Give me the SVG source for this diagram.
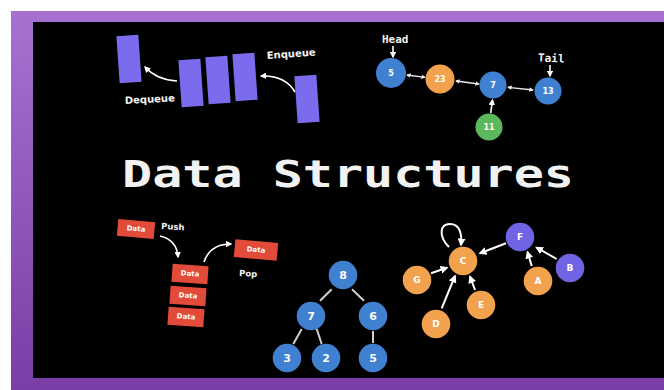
<svg xmlns="http://www.w3.org/2000/svg" width="664" height="390" viewBox="0 0 664 390">
<defs>
<linearGradient id="frame" x1="0" y1="0" x2="0" y2="1">
<stop offset="0" stop-color="#a771d1"/>
<stop offset="1" stop-color="#7b3da6"/>
</linearGradient>
<marker id="ah" viewBox="0 0 10 10" refX="8" refY="5" markerWidth="4" markerHeight="4" orient="auto-start-reverse">
<path d="M0,0 L10,5 L0,10 z" fill="#fff"/>
</marker>
<marker id="ahs" viewBox="0 0 10 10" refX="8" refY="5" markerWidth="3.5" markerHeight="3.5" orient="auto-start-reverse">
<path d="M0,0 L10,5 L0,10 z" fill="#eee"/>
</marker>
</defs>
<style>
.qbox{fill:#7a6cec}
.sbox{fill:#e24b39}
.blue{fill:#3f80d0}
.orange{fill:#f2a14c}
.green{fill:#5cb85c}
.purple{fill:#7164e4}
.lbl{font-family:"DejaVu Sans",sans-serif;font-weight:bold;fill:#f2f2f2}
.mono{font-family:"DejaVu Sans Mono","Liberation Mono",monospace;font-weight:bold;fill:#f2f2f2}
.num{font-family:"DejaVu Sans","Liberation Sans",sans-serif;font-weight:bold;fill:#fff;text-anchor:middle;dominant-baseline:central}
.arr{fill:none;stroke:#fff;stroke-width:1.6;marker-end:url(#ah)}
.dbl{fill:none;stroke:#e8e8e8;stroke-width:1.3;marker-start:url(#ahs);marker-end:url(#ahs)}
.edge{stroke:#d0d0d0;stroke-width:2}
.garr{fill:none;stroke:#fff;stroke-width:2;marker-end:url(#ah)}
</style>
<rect x="0" y="0" width="664" height="390" fill="#fff"/>
<rect x="11" y="11" width="653" height="379" fill="url(#frame)"/>
<rect x="33" y="22" width="631" height="356" fill="#000"/>

<text x="122" y="187" class="mono" font-size="37" textLength="452" lengthAdjust="spacingAndGlyphs">Data Structures</text>

<g id="queue">
<rect class="qbox" x="-11" y="-23.5" width="22" height="47" transform="translate(129 59) rotate(-4)"/>
<rect class="qbox" x="-11" y="-23.5" width="22" height="47" transform="translate(191 83) rotate(-4)"/>
<rect class="qbox" x="-11" y="-23.5" width="22" height="47" transform="translate(218 80) rotate(-4)"/>
<rect class="qbox" x="-11" y="-23.5" width="22" height="47" transform="translate(245 77) rotate(-4)"/>
<rect class="qbox" x="-11" y="-23.5" width="22" height="47" transform="translate(307 99) rotate(-4)"/>
<text class="lbl" font-size="10" transform="translate(125 104) rotate(-3)">Dequeue</text>
<text class="lbl" font-size="10" transform="translate(267 59) rotate(-4)">Enqueue</text>
</g>

<g id="linked-list">
<g id="ll-5"><circle class="blue" cx="391" cy="73" r="15"/><text class="num" x="391" y="73" font-size="8">5</text></g>
<g id="ll-23"><circle class="orange" cx="440" cy="79" r="14.5"/><text class="num" x="440" y="79" font-size="8">23</text></g>
<g id="ll-7"><circle class="blue" cx="493" cy="85" r="13.5"/><text class="num" x="493" y="85" font-size="8">7</text></g>
<g id="ll-13"><circle class="blue" cx="548" cy="91" r="13.5"/><text class="num" x="548" y="91" font-size="8">13</text></g>
<g id="ll-11"><circle class="green" cx="489" cy="127" r="13.5"/><text class="num" x="489" y="127" font-size="8">11</text></g>
<text class="mono" font-size="11" x="382" y="43">Head</text>
<text class="mono" font-size="11" x="538" y="62" transform="rotate(3 551 58)">Tail</text>
</g>

<g id="stack">
<g id="s-push"><rect class="sbox" x="-18.5" y="-8.5" width="37" height="17" transform="translate(136 229) rotate(5)"/><text class="num" font-size="7" transform="translate(136 229) rotate(5)">Data</text></g>
<g id="s-1"><rect class="sbox" x="-18" y="-9" width="36" height="18" transform="translate(190 274) rotate(4)"/><text class="num" font-size="7" transform="translate(190 274) rotate(4)">Data</text></g>
<g id="s-2"><rect class="sbox" x="-18" y="-9" width="36" height="18" transform="translate(188 296) rotate(4)"/><text class="num" font-size="7" transform="translate(188 296) rotate(4)">Data</text></g>
<g id="s-3"><rect class="sbox" x="-18" y="-9" width="36" height="18" transform="translate(186 317) rotate(4)"/><text class="num" font-size="7" transform="translate(186 317) rotate(4)">Data</text></g>
<g id="s-pop"><rect class="sbox" x="-21.5" y="-9" width="43" height="18" transform="translate(256 250) rotate(5)"/><text class="num" font-size="7" transform="translate(256 250) rotate(5)">Data</text></g>
<text class="lbl" font-size="8.5" transform="translate(161 229) rotate(3)">Push</text>
<text class="lbl" font-size="8.5" transform="translate(239 276) rotate(3)">Pop</text>
</g>

<g id="tree">
<g id="t-8"><circle class="blue" cx="343" cy="275" r="14.3"/><text class="num" x="343" y="275" font-size="11">8</text></g>
<g id="t-7"><circle class="blue" cx="311" cy="316" r="14.3"/><text class="num" x="311" y="316" font-size="11">7</text></g>
<g id="t-6"><circle class="blue" cx="373" cy="316" r="14.3"/><text class="num" x="373" y="316" font-size="11">6</text></g>
<g id="t-3"><circle class="blue" cx="287" cy="358" r="14.3"/><text class="num" x="287" y="358" font-size="11">3</text></g>
<g id="t-2"><circle class="blue" cx="326" cy="358" r="14.3"/><text class="num" x="326" y="358" font-size="11">2</text></g>
<g id="t-5"><circle class="blue" cx="373" cy="358" r="14.3"/><text class="num" x="373" y="358" font-size="11">5</text></g>
</g>

<g id="graph">
<g id="g-C"><circle class="orange" cx="463" cy="261" r="14.3"/><text class="num" x="463" y="261" font-size="9">C</text></g>
<g id="g-F"><circle class="purple" cx="520" cy="237" r="14.3"/><text class="num" x="520" y="237" font-size="9">F</text></g>
<g id="g-B"><circle class="purple" cx="570" cy="268" r="14.3"/><text class="num" x="570" y="268" font-size="9">B</text></g>
<g id="g-A"><circle class="orange" cx="538" cy="281" r="14.3"/><text class="num" x="538" y="281" font-size="9">A</text></g>
<g id="g-G"><circle class="orange" cx="417" cy="280" r="14.3"/><text class="num" x="417" y="280" font-size="9">G</text></g>
<g id="g-E"><circle class="orange" cx="481" cy="305" r="14.3"/><text class="num" x="481" y="305" font-size="9">E</text></g>
<g id="g-D"><circle class="orange" cx="436" cy="324" r="14.3"/><text class="num" x="436" y="324" font-size="9">D</text></g>
</g>

<g id="connectors">
<path class="arr" d="M177,81 Q157,80 145,67"/>
<path class="arr" d="M295,92 Q285,75 261,76"/>
<line class="arr" x1="393" y1="46" x2="393" y2="57"/>
<line class="arr" x1="550" y1="65" x2="550" y2="76"/>
<line class="dbl" x1="407" y1="75" x2="425" y2="77.3"/>
<line class="dbl" x1="456" y1="81" x2="479" y2="84"/>
<line class="dbl" x1="508" y1="87.3" x2="533" y2="90"/>
<line class="arr" x1="490.7" y1="113" x2="492.5" y2="100"/>
<path class="arr" d="M160,236 Q177,240 178,257"/>
<path class="arr" d="M204,262 Q210,244 231,244"/>
<line class="edge" x1="331.7" y1="289.3" x2="320" y2="300.7"/>
<line class="edge" x1="352" y1="289.3" x2="364" y2="300.7"/>
<line class="edge" x1="301.7" y1="329" x2="293.3" y2="344"/>
<line class="edge" x1="316.7" y1="329" x2="321.7" y2="344"/>
<line class="edge" x1="373" y1="331" x2="373" y2="343"/>
<line class="garr" x1="506" y1="243.3" x2="480" y2="253.3"/>
<line class="garr" x1="431" y1="273.3" x2="447" y2="267.7"/>
<line class="garr" x1="441.7" y1="308.3" x2="455" y2="276"/>
<line class="garr" x1="475" y1="290" x2="470" y2="276.5"/>
<line class="garr" x1="531.7" y1="266" x2="527.5" y2="252"/>
<line class="garr" x1="556.7" y1="259" x2="536.5" y2="247.5"/>
<path class="garr" d="M449,247 C438,236 440,224 450,224 C460,224 462,234 461,245"/>
</g>
</svg>
